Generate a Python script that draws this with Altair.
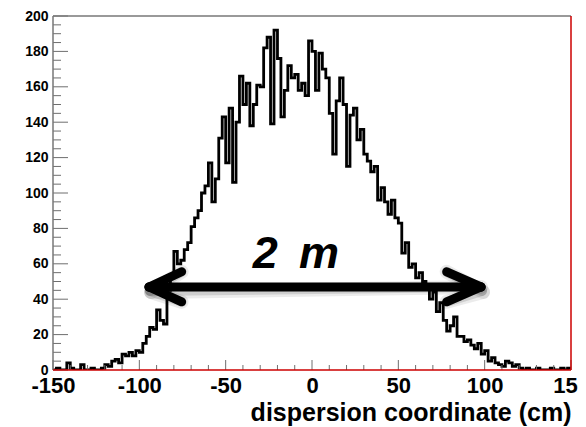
import altair as alt
import pandas as pd

# ---- histogram: 150 bins of 2 cm from -150 to 150 (counts)
counts_a = [0, 1, 0, 0, 4, 1, 0, 0, 3, 0, 0, 1, 0, 0, 1]            # -150 .. -122
counts_b = [3, 2, 5, 6, 4, 9, 8, 10, 8, 11]                          # -120 .. -102
counts_c = [10, 15, 19, 24, 23, 34, 28, 26, 45, 52]                  # -100 .. -82
counts_d = [67, 60, 62, 68, 72, 81, 86, 90, 100, 104]                # -80 .. -62
counts_e = [117, 95, 108, 131, 143, 117, 148, 106, 140, 166]         # -60 .. -42
counts_f = [150, 162, 138, 150, 161, 160, 182, 188, 139, 192]        # -40 .. -22
counts_g = [176, 143, 158, 172, 165, 167, 158, 162, 155, 186]        # -20 .. -2
counts_h = [180, 158, 179, 170, 165, 145, 122, 152, 165, 150]        # 0 .. 18
counts_i = [115, 144, 148, 130, 136, 122, 118, 112, 115, 96]         # 20 .. 38
counts_j = [103, 95, 88, 96, 86, 83, 66, 72, 58, 60]                 # 40 .. 58
counts_k = [52, 55, 50, 47, 40, 44, 33, 38, 28, 22]                  # 60 .. 78
counts_l = [25, 30, 19, 19, 16, 17, 14, 12, 15, 9]                   # 80 .. 98
counts_m = [11, 5, 7, 4, 3, 2, 5, 4, 2, 3]                           # 100 .. 118
counts_n = [1, 0, 1, 0, 0, 1, 0, 0, 0, 1, 0, 0, 1, 0, 1]             # 120 .. 148

counts = (counts_a + counts_b + counts_c + counts_d + counts_e + counts_f + counts_g
          + counts_h + counts_i + counts_j + counts_k + counts_l + counts_m + counts_n)
bin_lo = -150
bin_w = 2
edges = [bin_lo + bin_w * i for i in range(len(counts) + 1)]

# axis ticks
x_major = [-150, -100, -50, 0, 50, 100, 150]
x_minor = [-140, -130, -120, -110, -90, -80, -70, -60, -40, -30, -20, -10,
           10, 20, 30, 40, 60, 70, 80, 90, 110, 120, 130, 140]
y_major = [0, 20, 40, 60, 80, 100, 120, 140, 160, 180, 200]
y_minor = [5, 10, 15, 25, 30, 35, 45, 50, 55, 65, 70, 75, 85, 90, 95, 105, 110, 115,
           125, 130, 135, 145, 150, 155, 165, 170, 175, 185, 190, 195]

# annotation: double arrow "2 m"
arrow_x1 = [-94.4, -94.4, -94.4, 97.9, 97.9]
arrow_y1 = [46.9, 46.9, 46.9, 46.9, 46.9]
arrow_x2 = [97.9, -75.5, -75.5, 78.0, 78.0]
arrow_y2 = [46.9, 55.5, 38.5, 55.5, 38.5]
label_text = ["2", "m"]
label_x = [-27.0, 4.0]
label_y = [57.6, 57.6]

W, H = 518, 354
FONT = "Liberation Sans"

hist_df = pd.DataFrame({"x": edges, "y": counts + [counts[-1]]})
arrow_df = pd.DataFrame({"x": arrow_x1, "y": arrow_y1, "x2": arrow_x2, "y2": arrow_y2})
label_df = pd.DataFrame({"x": label_x, "y": label_y, "t": label_text})

xs = alt.Scale(domain=[-150, 150], nice=False, zero=False)
ys = alt.Scale(domain=[0, 200], nice=False, zero=False)

x_axis = alt.Axis(
    values=x_major, labelFontSize=22, labelFontWeight="bold", labelFont=FONT,
    labelColor="black", labelPadding=5, ticks=False, domain=False,
    grid=False, labelFlush=False, labelOverlap=False,
    labelExpr="datum.value < 0 ? '-' + abs(datum.value) : '' + datum.value",
    title="dispersion coordinate (cm)", titleFont=FONT, titleFontSize=25,
    titleFontWeight="bold", titleColor="black", titleAlign="right",
    titleBaseline="alphabetic", titleX=W, titleY=50, titleAngle=0)
y_axis = alt.Axis(
    values=y_major, labelFontSize=14, labelFontWeight="bold", labelFont=FONT,
    labelColor="black", labelPadding=5, ticks=False, domain=False,
    grid=False, labelFlush=False, labelOverlap=False, title="")

hist = alt.Chart(hist_df).mark_line(
    interpolate="step-after", color="black", strokeWidth=2.8, clip=True
).encode(
    x=alt.X("x:Q", scale=xs, axis=x_axis),
    y=alt.Y("y:Q", scale=ys, axis=y_axis),
)

tick_col = "#6e6e6e"

ymaj = alt.Chart(pd.DataFrame({"y": y_major})).mark_rule(color=tick_col, strokeWidth=1).encode(
    y=alt.Y("y:Q", scale=ys, axis=y_axis), x=alt.value(0), x2=alt.value(15))
ymin = alt.Chart(pd.DataFrame({"y": y_minor})).mark_rule(color=tick_col, strokeWidth=1).encode(
    y=alt.Y("y:Q", scale=ys, axis=y_axis), x=alt.value(0), x2=alt.value(8))
xmaj = alt.Chart(pd.DataFrame({"x": x_major})).mark_rule(color=tick_col, strokeWidth=1).encode(
    x=alt.X("x:Q", scale=xs, axis=x_axis), y=alt.value(H), y2=alt.value(H - 10))
xmin = alt.Chart(pd.DataFrame({"x": x_minor})).mark_rule(color=tick_col, strokeWidth=1).encode(
    x=alt.X("x:Q", scale=xs, axis=x_axis), y=alt.value(H), y2=alt.value(H - 5))

frame_df = pd.DataFrame({"x": [-150], "y": [0]})
frame_top = alt.Chart(frame_df).mark_rule(color="#777777", strokeWidth=1.5).encode(
    x=alt.value(0), x2=alt.value(W), y=alt.value(0))
frame_left = alt.Chart(frame_df).mark_rule(color="#777777", strokeWidth=1.5).encode(
    x=alt.value(0), y=alt.value(0), y2=alt.value(H))
frame_bottom = alt.Chart(frame_df).mark_rule(color="#cc0000", strokeWidth=1.5).encode(
    x=alt.value(0), x2=alt.value(W), y=alt.value(H))
frame_right = alt.Chart(frame_df).mark_rule(color="#cc0000", strokeWidth=1.5).encode(
    x=alt.value(W), y=alt.value(0), y2=alt.value(H))

arrow_enc = dict(
    x=alt.X("x:Q", scale=xs, axis=x_axis), y=alt.Y("y:Q", scale=ys, axis=y_axis),
    x2="x2:Q", y2="y2:Q")
shadow1 = alt.Chart(arrow_df).mark_rule(
    color="black", opacity=0.08, strokeWidth=14, strokeCap="round", xOffset=2, yOffset=5
).encode(**arrow_enc)
shadow2 = alt.Chart(arrow_df).mark_rule(
    color="black", opacity=0.12, strokeWidth=10, strokeCap="round", xOffset=1, yOffset=4
).encode(**arrow_enc)
arrow = alt.Chart(arrow_df).mark_rule(
    color="black", strokeWidth=9, strokeCap="round"
).encode(**arrow_enc)

labels = alt.Chart(label_df).mark_text(
    font=FONT, fontSize=45, fontWeight="bold", fontStyle="italic", color="black",
    align="center", baseline="alphabetic"
).encode(
    x=alt.X("x:Q", scale=xs, axis=x_axis), y=alt.Y("y:Q", scale=ys, axis=y_axis), text="t:N")

chart = alt.layer(
    hist, ymaj, ymin, xmaj, xmin, frame_top, frame_left, frame_bottom, frame_right,
    shadow1, shadow2, arrow, labels
).properties(
    width=W, height=H,
    autosize=alt.AutoSizeParams(type="none"),
    padding={"left": 45, "top": 8, "right": 7, "bottom": 57},
    background="white",
).configure_view(stroke=None)

chart.save("out.html", embed_options={"renderer": "svg", "actions": False})
